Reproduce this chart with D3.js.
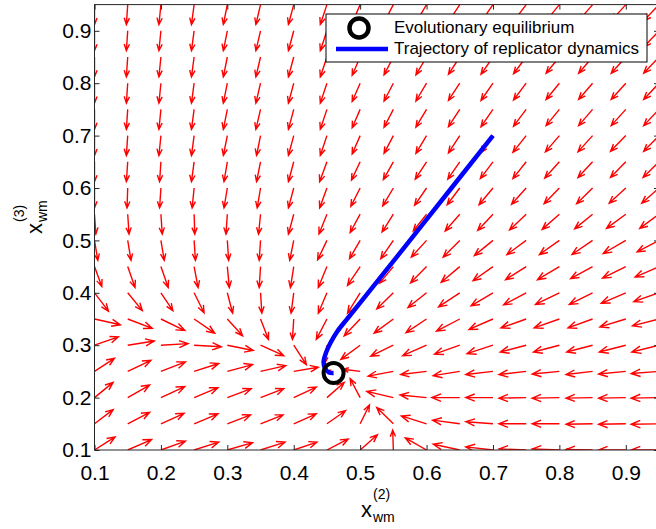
<!DOCTYPE html>
<html>
<head>
<meta charset="utf-8">
<script src="https://cdn.jsdelivr.net/npm/d3@7"></script>
<style>
  body { margin: 0; background: #fff; }
  svg text { font-family: "Liberation Sans", Arial, sans-serif; fill: #000; }
</style>
</head>
<body>
<svg id="chart" width="656" height="529"></svg>
<script>
'use strict';

// grid of the vector field (columns = x, rows = y from top to bottom)
var gridX = [0.1, 0.15, 0.2, 0.25, 0.3, 0.35, 0.4, 0.45, 0.5, 0.55, 0.6, 0.65, 0.7, 0.75, 0.8, 0.85, 0.9, 0.95];
var gridY = [0.95, 0.9, 0.85, 0.8, 0.75, 0.7, 0.65, 0.6, 0.55, 0.5, 0.45, 0.4, 0.35, 0.3, 0.25, 0.2, 0.15, 0.1];

// scaled arrow components, in thousandths of an axis unit
var fieldU = [
    [0,-2,-3,-4,-6,-7,-8,-10,-12,-14,-16,-17,-18,-19,-20,-21,-22,-23],
    [0,-2,-3,-4,-6,-7,-8,-10,-12,-14,-16,-17,-18,-19,-20,-21,-22,-23],
    [0,-2,-3,-4,-6,-7,-8,-10,-12,-14,-16,-17,-18,-19,-20,-21,-22,-23],
    [0,-2,-3,-4,-6,-7,-8,-10,-12,-14,-16,-17,-18,-19,-20,-21,-22,-23],
    [0,-2,-3,-4,-6,-7,-8,-10,-12,-14,-16,-17,-18,-19,-20,-21,-22,-23],
    [0,-2,-3,-4,-6,-6,-8,-10,-12,-14,-16,-17,-19,-20,-21,-22,-23,-23],
    [0,-2,-2,-4,-5,-6,-8,-11,-13,-15,-17,-18,-19,-20,-22,-22,-23,-24],
    [0,-1,-2,-3,-5,-5,-8,-11,-14,-16,-18,-19,-21,-22,-23,-24,-25,-26],
    [2,2,2,1,-2,-3,-8,-12,-15,-17,-20,-22,-23,-25,-26,-27,-29,-29],
    [5,5,5,2,2,-2,-6,-14,-16,-19,-23,-25,-28,-29,-30,-31,-34,-33],
    [11,11,11,6,3,-2,-5,-13,-19,-21,-24,-28,-30,-31,-33,-33,-35,-36],
    [21,22,18,15,8,2,-4,-13,-19,-25,-28,-32,-33,-34,-36,-35,-37,-38],
    [39,37,36,31,23,12,-2,-16,-24,-29,-31,-35,-36,-38,-38,-37,-39,-40],
    [36,40,41,41,39,35,19,-3,-29,-34,-36,-38,-39,-39,-39,-39,-40,-41],
    [30,35,37,37,38,38,37,5,-26,-38,-39,-40,-41,-41,-41,-40,-41,-42],
    [28,33,36,36,36,35,34,26,-15,-40,-40,-42,-41,-41,-41,-40,-41,-42],
    [28,33,35,36,35,34,34,28,14,-25,-38,-41,-41,-41,-41,-40,-41,-42],
    [31,36,37,37,38,37,35,32,26,-1,-32,-40,-41,-41,-41,-40,-41,-42]
];
var fieldV = [
    [-38,-38,-38,-38,-38,-38,-38,-38,-35,-34,-34,-33,-33,-32,-31,-31,-31,-31],
    [-38,-38,-38,-38,-38,-38,-38,-38,-35,-34,-34,-33,-33,-32,-31,-31,-31,-31],
    [-38,-38,-38,-38,-38,-38,-38,-38,-35,-34,-34,-33,-33,-32,-31,-31,-31,-31],
    [-38,-38,-38,-38,-38,-38,-38,-38,-35,-34,-34,-33,-33,-32,-31,-31,-31,-31],
    [-38,-38,-38,-38,-38,-38,-38,-38,-35,-34,-34,-33,-33,-32,-31,-31,-31,-31],
    [-38,-38,-38,-38,-38,-38,-38,-38,-35,-34,-34,-33,-33,-32,-31,-31,-30,-30],
    [-38,-38,-38,-38,-38,-38,-38,-38,-35,-34,-33,-33,-32,-32,-31,-30,-30,-30],
    [-38,-38,-38,-38,-38,-38,-38,-38,-35,-34,-33,-32,-32,-31,-30,-30,-29,-29],
    [-38,-38,-38,-38,-38,-38,-38,-38,-35,-34,-32,-32,-31,-30,-29,-28,-27,-27],
    [-38,-38,-38,-38,-38,-38,-38,-37,-35,-35,-32,-32,-29,-27,-27,-27,-25,-22],
    [-38,-40,-40,-40,-40,-40,-40,-40,-36,-32,-31,-30,-27,-25,-25,-23,-22,-20],
    [-35,-34,-34,-38,-39,-39,-39,-39,-39,-31,-28,-27,-25,-23,-22,-22,-20,-17],
    [-11,-18,-22,-27,-32,-39,-39,-39,-32,-27,-26,-23,-20,-17,-17,-17,-15,-13],
    [16,8,3,-3,-10,-20,-37,-34,-27,-21,-20,-17,-16,-13,-13,-13,-13,-13],
    [25,21,18,15,13,11,8,2,4,-9,-6,-8,-6,-6,-5,-6,-5,-4],
    [29,24,21,19,17,17,20,29,36,12,5,0,0,-1,-1,-1,-1,-1],
    [27,22,20,19,17,17,19,25,36,31,15,7,4,0,0,-1,-1,-1],
    [25,20,17,15,14,15,15,21,29,38,23,11,6,2,2,1,0,0]
];

// replicator dynamics trajectory and equilibrium point
var trajX = [0.700, 0.595, 0.490, 0.479, 0.466, 0.456, 0.449, 0.445, 0.447, 0.453, 0.460];
var trajY = [0.700, 0.532, 0.365, 0.348, 0.327, 0.306, 0.287, 0.268, 0.256, 0.248, 0.247];
var eqX = [0.46];
var eqY = [0.247];

var tickValues = [0.1, 0.2, 0.3, 0.4, 0.5, 0.6, 0.7, 0.8, 0.9];
var legendLabels = ['Evolutionary equilibrium', 'Trajectory of replicator dynamics'];

var svg = d3.select('#chart'),
    plotLeft = 94.5, plotRight = 659, plotTop = 4.6, plotBottom = 450;

var x = d3.scaleLinear().domain([0.1, 0.95]).range([plotLeft, plotRight]),
    y = d3.scaleLinear().domain([0.1, 0.95]).range([plotBottom, plotTop]);

svg.append('rect').attr('width', 656).attr('height', 529).attr('fill', '#fff');

svg.append('clipPath').attr('id', 'plot_clip')
    .append('rect')
    .attr('x', plotLeft).attr('y', plotTop)
    .attr('width', plotRight - plotLeft).attr('height', plotBottom - plotTop);

var plot = svg.append('g').attr('clip-path', 'url(#plot_clip)');

// build arrows in pixel space (quiver style head)
var arrows = [];
gridY.forEach(function(yv, i) {
    gridX.forEach(function(xv, j) {
        arrows.push({
            x0: x(xv), y0: y(yv),
            x1: x(xv + fieldU[i][j] / 1000),
            y1: y(yv + fieldV[i][j] / 1000)
        });
    });
});

function arrowPath(a) {
    var dx = a.x1 - a.x0, dy = a.y1 - a.y0,
        alpha = 0.33, beta = 0.4;
    var h1x = a.x1 - alpha * (dx - beta * dy),
        h1y = a.y1 - alpha * (dy + beta * dx),
        h2x = a.x1 - alpha * (dx + beta * dy),
        h2y = a.y1 - alpha * (dy - beta * dx);
    return 'M' + a.x0 + ',' + a.y0 + 'L' + a.x1 + ',' + a.y1 +
        'M' + h1x + ',' + h1y + 'L' + a.x1 + ',' + a.y1 + 'L' + h2x + ',' + h2y;
}

plot.selectAll('path.arrow')
    .data(arrows)
    .enter().append('path')
    .attr('class', 'arrow')
    .attr('d', arrowPath)
    .attr('fill', 'none')
    .attr('stroke', '#ff0000')
    .attr('stroke-width', 1.4);

var trajectory = d3.line()
    .x(function(d) { return x(d[0]); })
    .y(function(d) { return y(d[1]); })
    .curve(d3.curveCatmullRom);

plot.append('path')
    .attr('d', trajectory(d3.zip(trajX, trajY)))
    .attr('fill', 'none')
    .attr('stroke', '#0000ff')
    .attr('stroke-width', 4.5);

plot.selectAll('circle.eq')
    .data(d3.zip(eqX, eqY))
    .enter().append('circle')
    .attr('class', 'eq')
    .attr('cx', function(d) { return x(d[0]); })
    .attr('cy', function(d) { return y(d[1]); })
    .attr('r', 10)
    .attr('fill', 'none')
    .attr('stroke', '#000')
    .attr('stroke-width', 4);

// axes, ticks inside
var fmt = d3.format('.1f');
function styleAxis(g) {
    g.select('.domain').remove();
    g.selectAll('line').attr('stroke', '#262626');
    g.selectAll('text').style('font-size', '21px').attr('fill', '#000');
}

svg.append('g').attr('transform', 'translate(0,' + plotBottom + ')')
    .call(d3.axisBottom(x).tickValues(tickValues).tickFormat(fmt).tickSize(-5).tickPadding(15))
    .call(styleAxis);
svg.append('g').attr('transform', 'translate(0,' + plotTop + ')')
    .call(d3.axisTop(x).tickValues(tickValues).tickFormat('').tickSize(-5))
    .call(styleAxis);
svg.append('g').attr('transform', 'translate(' + plotLeft + ',0)')
    .call(d3.axisLeft(y).tickValues(tickValues).tickFormat(fmt).tickSize(-5).tickPadding(3))
    .call(styleAxis);
svg.append('g').attr('transform', 'translate(' + plotRight + ',0)')
    .call(d3.axisRight(y).tickValues(tickValues).tickFormat('').tickSize(-5))
    .call(styleAxis);

svg.append('rect')
    .attr('x', plotLeft).attr('y', plotTop)
    .attr('width', plotRight - plotLeft).attr('height', plotBottom - plotTop)
    .attr('fill', 'none').attr('stroke', '#262626').attr('stroke-width', 1);

// axis labels  x^(2)_wm  and  x^(3)_wm
function axisLabel(g, sup) {
    g.append('text').attr('x', 0).attr('y', 0).style('font-size', '22px').text('x');
    g.append('text').attr('x', 12).attr('y', -18).style('font-size', '14px').text(sup);
    g.append('text').attr('x', 12).attr('y', 5).style('font-size', '14px').text('wm');
}
axisLabel(svg.append('g').attr('transform', 'translate(361,517)'), '(2)');
axisLabel(svg.append('g').attr('transform', 'translate(42,234) rotate(-90)'), '(3)');

// legend
var legend = svg.append('g');
legend.append('rect')
    .attr('x', 326).attr('y', 14).attr('width', 321).attr('height', 48)
    .attr('fill', '#fff').attr('stroke', '#000').attr('stroke-width', 1);
legend.append('circle')
    .attr('cx', 359).attr('cy', 28).attr('r', 9.5)
    .attr('fill', 'none').attr('stroke', '#000').attr('stroke-width', 4.5);
legend.append('line')
    .attr('x1', 336).attr('x2', 388).attr('y1', 49).attr('y2', 49)
    .attr('stroke', '#0000ff').attr('stroke-width', 4.5);
legend.selectAll('text.leg')
    .data(legendLabels)
    .enter().append('text')
    .attr('class', 'leg')
    .attr('x', 394)
    .attr('y', function(d, i) { return 33 + i * 21; })
    .style('font-size', '17px')
    .text(function(d) { return d; });
</script>
</body>
</html>
